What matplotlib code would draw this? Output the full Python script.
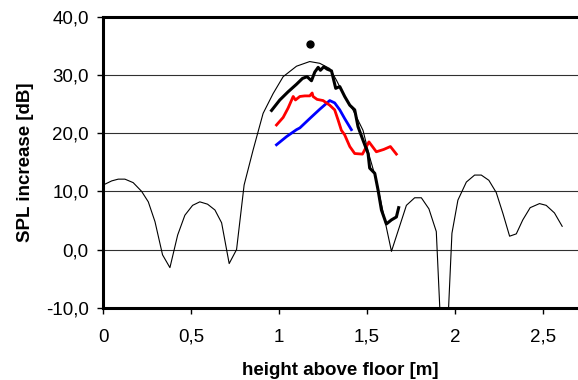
import numpy as np
import matplotlib
matplotlib.use("Agg")
import matplotlib.pyplot as plt
from matplotlib.ticker import FuncFormatter

# thin curve (calculated)
calc_x = [0, 0.048, 0.085, 0.123, 0.17, 0.218, 0.256, 0.294, 0.337, 0.379, 0.423, 0.464,
          0.508, 0.549, 0.593, 0.635, 0.673, 0.716, 0.758, 0.801, 0.852, 0.909, 0.966,
          1.023, 1.099, 1.174, 1.231, 1.288, 1.326, 1.373, 1.42, 1.477, 1.515, 1.553,
          1.639, 1.724, 1.771, 1.809, 1.852, 1.894, 1.923, 1.955, 1.983, 2.017, 2.065,
          2.112, 2.15, 2.193, 2.235, 2.273, 2.311, 2.349, 2.386, 2.428, 2.481, 2.519,
          2.566, 2.61]
calc_y = [11.1, 11.8, 12.1, 12.1, 11.5, 10.0, 8.2, 4.8, -0.9, -3.1, 2.5, 5.9,
          7.6, 8.2, 7.8, 6.8, 4.6, -2.4, 0.0, 11.1, 17.1, 23.4, 26.8,
          29.7, 31.5, 32.3, 32.0, 31.1, 29.1, 26.3, 24.0, 20.5, 15.9, 11.9,
          -0.3, 7.6, 8.9, 8.9, 7.0, 3.1, -16.0, -16.0, 2.8, 8.5, 11.6,
          12.8, 12.8, 11.9, 9.8, 6.2, 2.3, 2.7, 5.1, 7.2, 7.9, 7.6,
          6.3, 4.0]

# measured, black
blk_x = [0.957, 1.004, 1.051, 1.099, 1.133, 1.159, 1.184, 1.203, 1.222, 1.235, 1.254,
         1.273, 1.298, 1.322, 1.345, 1.373, 1.402, 1.43, 1.449, 1.477, 1.506, 1.515,
         1.544, 1.563, 1.582, 1.61, 1.639, 1.667, 1.68]
blk_y = [23.9, 25.7, 27.1, 28.4, 29.4, 29.7, 29.0, 30.5, 31.3, 30.8, 31.4,
         31.0, 30.7, 27.7, 28.0, 26.3, 24.8, 24.0, 21.1, 18.8, 16.5, 14.0,
         13.1, 10.2, 6.8, 4.4, 5.1, 5.6, 7.2]

# measured, red
red_x = [0.985, 1.023, 1.051, 1.08, 1.093, 1.118, 1.146, 1.174, 1.188, 1.193, 1.216,
         1.25, 1.288, 1.316, 1.335, 1.354, 1.373, 1.402, 1.43, 1.474, 1.511, 1.553,
         1.595, 1.633, 1.667]
red_y = [21.4, 22.7, 24.3, 26.3, 25.7, 26.3, 26.4, 26.4, 26.9, 26.3, 25.8,
         25.6, 24.8, 24.0, 22.3, 20.5, 19.7, 17.7, 16.5, 16.4, 18.5, 16.8,
         17.2, 17.7, 16.4]

# measured, blue
blu_x = [0.985, 1.042, 1.099, 1.118, 1.174, 1.231, 1.288, 1.316, 1.345, 1.373, 1.411]
blu_y = [18.0, 19.4, 20.6, 20.9, 22.5, 24.1, 25.6, 25.2, 24.0, 22.5, 20.6]

dot_x = [1.178]
dot_y = [35.3]

plt.rcParams['font.family'] = ['Liberation Sans', 'DejaVu Sans']

fig = plt.figure(figsize=(5.78, 3.8), dpi=100)
ax = fig.add_axes([0.1787, 0.19, 0.8213, 0.766])

for yv in [0, 10, 20, 30]:
    ax.axhline(yv, color='#303030', lw=0.8, zorder=1)

ax.plot(calc_x, calc_y, color='black', lw=0.8, zorder=2)
ax.plot(blu_x, blu_y, color='#0000ff', lw=2.0, zorder=3)
ax.plot(red_x, red_y, color='#ff0000', lw=2.0, zorder=3)
ax.plot(blk_x, blk_y, color='black', lw=2.2, zorder=4)
ax.plot(dot_x, dot_y, 'o', color='black', ms=5, zorder=5)

ax.set_xlim(0, 2.7)
ax.set_ylim(-10, 40)
ax.set_xticks([0, 0.5, 1, 1.5, 2, 2.5])
ax.set_yticks([-10, 0, 10, 20, 30, 40])
ax.xaxis.set_major_formatter(FuncFormatter(lambda v, p: ('%g' % v).replace('.', ',')))
ax.yaxis.set_major_formatter(FuncFormatter(lambda v, p: ('%.1f' % v).replace('.', ',')))
ax.tick_params(axis='y', direction='out', length=4.5, width=1, labelsize=13.5, pad=6)
ax.tick_params(axis='x', direction='out', length=4, width=1, labelsize=13.5, pad=11)

for s in ['left', 'bottom', 'top']:
    ax.spines[s].set_linewidth(2.2)
ax.spines['right'].set_visible(False)

ax.set_xlabel('height above floor [m]', fontsize=13.5, fontweight='bold')
ax.set_ylabel('SPL increase [dB]', fontsize=13.5, fontweight='bold')
ax.xaxis.set_label_coords(0.5, -0.185)
ax.yaxis.set_label_coords(-0.146, 0.5)

fig.savefig('out.png', dpi=100)
